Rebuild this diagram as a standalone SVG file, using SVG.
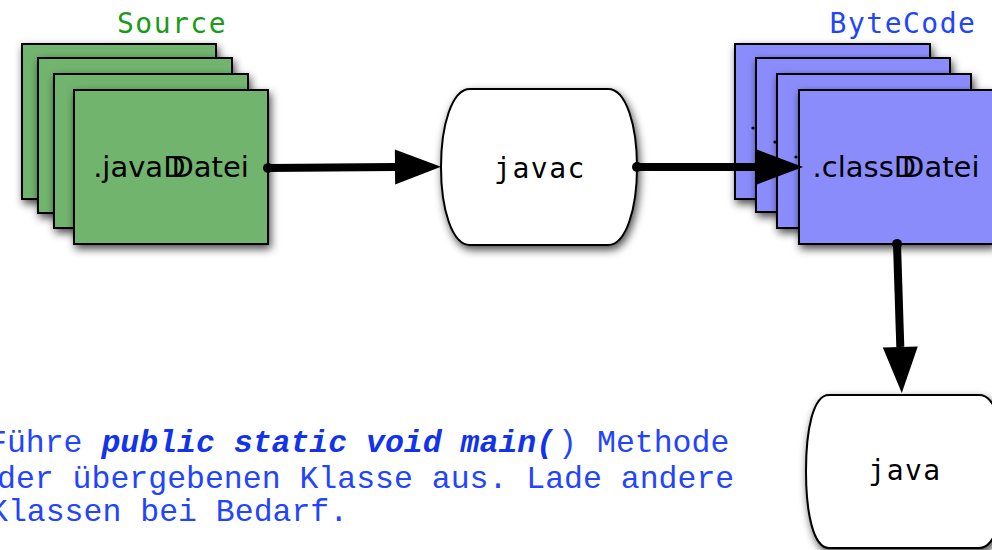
<svg xmlns="http://www.w3.org/2000/svg" width="992" height="550" viewBox="0 0 992 550">
<defs>
<filter id="sh" x="-20%" y="-20%" width="140%" height="140%">
<feDropShadow dx="2" dy="4" stdDeviation="4" flood-color="#000" flood-opacity="0.7"/>
</filter>
<marker id="head" markerUnits="userSpaceOnUse" markerWidth="48" markerHeight="36" refX="0" refY="17.5" orient="auto" overflow="visible">
<path d="M0,0 L46,17.5 L0,35 Z" fill="#000"/>
</marker>
<marker id="dot" markerUnits="userSpaceOnUse" markerWidth="12" markerHeight="12" refX="6" refY="6" orient="auto" overflow="visible">
<circle cx="6" cy="6" r="5" fill="#000"/>
</marker>
</defs>
<style>
.src{fill:#71b46e;stroke:#000;stroke-width:2;filter:url(#sh)}
.bc{fill:#8a8cfc;stroke:#000;stroke-width:2;filter:url(#sh)}
.proc{fill:#fff;stroke:#000;stroke-width:2;filter:url(#sh)}
.lbl{font-family:"DejaVu Sans","Liberation Sans",sans-serif;font-size:29px;fill:#000;text-anchor:middle}
.mono{font-family:"DejaVu Sans Mono","Liberation Mono",monospace;font-size:28px;letter-spacing:1.5px;text-anchor:middle}
.conn{stroke:#000;stroke-width:8;fill:none;marker-start:url(#dot);marker-end:url(#head)}
.note{font-family:"Liberation Mono","Courier New",monospace;font-size:31.5px;fill:#2244ff}
.bi{font-weight:bold;font-style:italic;fill:#1133ee}
</style>

<text class="mono" x="172" y="33" fill="#1a9a1a">Source</text>
<text class="mono" x="903" y="33" fill="#1f45ff">ByteCode</text>

<g id="source">
<rect class="src" x="22" y="44" width="194" height="155"/>
<rect class="src" x="38" y="58" width="194" height="155"/>
<rect class="src" x="54" y="74" width="194" height="154"/>
<rect class="src" x="74" y="90" width="194" height="154"/>
<text class="lbl" x="171" y="177">.java<tspan>D</tspan><tspan dx="-14">Datei</tspan></text>
</g>

<g id="javac">
<path class="proc" d="M470,89 L608,89 C626,89 637,125 637,167 C637,209 626,245 608,245 L470,245 C452,245 441,209 441,167 C441,125 452,89 470,89 Z"/>
<text class="mono" x="540" y="178" fill="#000">javac</text>
</g>

<g id="bytecode">
<rect class="bc" x="735" y="44" width="195" height="155"/>
<circle cx="753" cy="128" r="1.6" fill="#000"/>
<rect class="bc" x="756" y="58" width="194" height="154"/>
<circle cx="775" cy="142" r="1.6" fill="#000"/>
<rect class="bc" x="777" y="74" width="194" height="154"/>
<circle cx="796" cy="157" r="1.6" fill="#000"/>
<rect class="bc" x="799" y="90" width="194" height="154"/>
<text class="lbl" x="896" y="177">.class<tspan>D</tspan><tspan dx="-14">Datei</tspan></text>
</g>

<g id="java">
<path class="proc" d="M829,395 L979,395 C997,395 1004,430 1004,471 C1004,512 997,548 979,548 L829,548 C813,548 806,512 806,471 C806,430 813,395 829,395 Z"/>
<text class="mono" x="905" y="480" fill="#000">java</text>
</g>

<g id="connectors">
<path class="conn" d="M268,168 L395,167"/>
<path class="conn" d="M637,167 L757,167"/>
<path class="conn" d="M897,244 L900.3,347"/>
</g>

<g id="note">
<text class="note" x="-12" y="452">Führe <tspan class="bi">public static void main(</tspan><tspan x="558">)</tspan><tspan x="597">Methode</tspan></text>
<text class="note" x="-3" y="488">der übergebenen Klasse aus. Lade andere</text>
<text class="note" x="-11" y="521">Klassen bei Bedarf.</text>
</g>
</svg>
